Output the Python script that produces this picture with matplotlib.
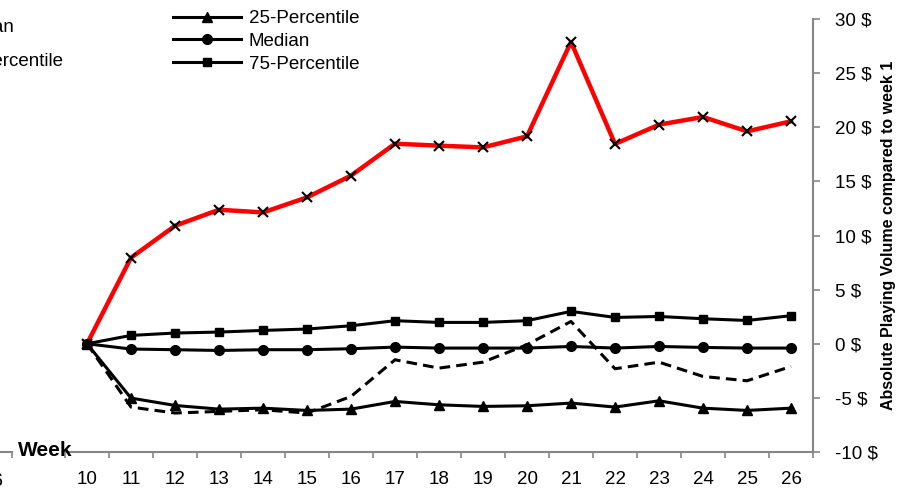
import numpy as np
import matplotlib
matplotlib.use("Agg")
import matplotlib.pyplot as plt

plt.rcParams['font.family'] = ['Liberation Sans', 'DejaVu Sans']

# data (weeks 10..26)
weeks = list(range(10, 27))
mean_vals = [0, 7.95, 10.9, 12.38, 12.13, 13.52, 15.53, 18.48, 18.3, 18.14,
             19.16, 27.88, 18.46, 20.24, 20.95, 19.62, 20.55]
p25 = [0, -5.02, -5.7, -6.04, -5.95, -6.16, -6.04, -5.33, -5.64, -5.79,
       -5.73, -5.48, -5.85, -5.27, -5.95, -6.16, -5.95]
median = [0, -0.49, -0.55, -0.62, -0.55, -0.55, -0.46, -0.31, -0.4, -0.4,
          -0.4, -0.25, -0.4, -0.25, -0.34, -0.4, -0.4]
p75 = [0, 0.77, 0.99, 1.08, 1.23, 1.36, 1.66, 2.13, 1.97, 1.97,
       2.13, 2.99, 2.43, 2.52, 2.31, 2.15, 2.59]
p5 = [0, -5.85, -6.4, -6.25, -6.1, -6.4, -4.87, -1.48, -2.25, -1.7,
      -0.09, 2.06, -2.31, -1.7, -3.02, -3.42, -2.1]
yticks = list(range(-10, 31, 5))
ytick_labels = [f"{v} $" for v in yticks]

W, H = 905, 493
fig = plt.figure(figsize=(W / 100, H / 100), dpi=100)
ax = fig.add_axes([65 / W, 41 / H, 748 / W, 433 / H])

gray = '#868686'

ax.plot(weeks, mean_vals, color='red', lw=3.2, marker='x', ms=7.5,
        mec='black', mew=1.5, zorder=2)
ax.plot(weeks, p5, color='black', lw=2.2, ls=(0, (3.5, 2)), zorder=3)
l25, = ax.plot(weeks, p25, color='black', lw=2.2, marker='^', ms=6.5, zorder=4,
               label='25-Percentile')
lmed, = ax.plot(weeks, median, color='black', lw=2.2, marker='o', ms=7, zorder=4,
                label='Median')
l75, = ax.plot(weeks, p75, color='black', lw=2.2, marker='s', ms=5.5, zorder=4,
               label='75-Percentile')

ax.set_xlim(9.5, 26.5)
ax.set_ylim(-10, 30)

ax.set_xticks(weeks)
ax.set_xticks(np.arange(9.5, 27, 1.0), minor=True)
ax.tick_params(axis='x', which='major', length=0, labelsize=13.5, pad=14)
ax.tick_params(axis='x', which='minor', length=4.5, width=1.2, color=gray,
               direction='out')

ax.yaxis.tick_right()
ax.yaxis.set_label_position('right')
ax.set_yticks(yticks)
ax.set_yticklabels(ytick_labels)
ax.tick_params(axis='y', length=5, width=1.2, color=gray, labelsize=13.5, pad=11)
ax.set_ylabel('Absolute Playing Volume compared to week 1', fontweight='bold',
              fontsize=11.5, labelpad=2)

for s in ['left', 'top']:
    ax.spines[s].set_visible(False)
for s in ['right', 'bottom']:
    ax.spines[s].set_color(gray)
    ax.spines[s].set_linewidth(1.5)

leg = fig.legend(handles=[l25, lmed, l75], loc='upper left',
                 bbox_to_anchor=(173 / W, 1 - 10 / H), frameon=False,
                 fontsize=13.5, handlelength=3.6, handletextpad=0.45,
                 labelspacing=0.3, borderpad=0, borderaxespad=0)

# fragment of the neighbouring panel, cut off by the left edge
ax0 = fig.add_axes([-0.2, 41 / H, 0.2 + 12 / W, 433 / H])
ax0.set_xlim(0, 1)
ax0.set_ylim(0, 1)
ax0.patch.set_alpha(0)
for s in ['left', 'top', 'right']:
    ax0.spines[s].set_visible(False)
ax0.spines['bottom'].set_color(gray)
ax0.spines['bottom'].set_linewidth(1.5)
ax0.set_yticks([])
ax0.set_xticks([0.999])
ax0.set_xticklabels([''])
ax0.tick_params(axis='x', length=4.5, width=1.2, color=gray)

fig.text(3 / W, 1 - 481 / H, '26', ha='right', va='center', fontsize=13.5)
fig.text(18 / W, 1 - 450 / H, 'Week', ha='left', va='center', fontsize=15,
         fontweight='bold')
fig.text(14 / W, 1 - 28 / H, 'Mean', ha='right', va='center', fontsize=13.5)
fig.text(63 / W, 1 - 62 / H, '5-Percentile', ha='right', va='center', fontsize=13.5)

fig.savefig('out.png', dpi=100)
